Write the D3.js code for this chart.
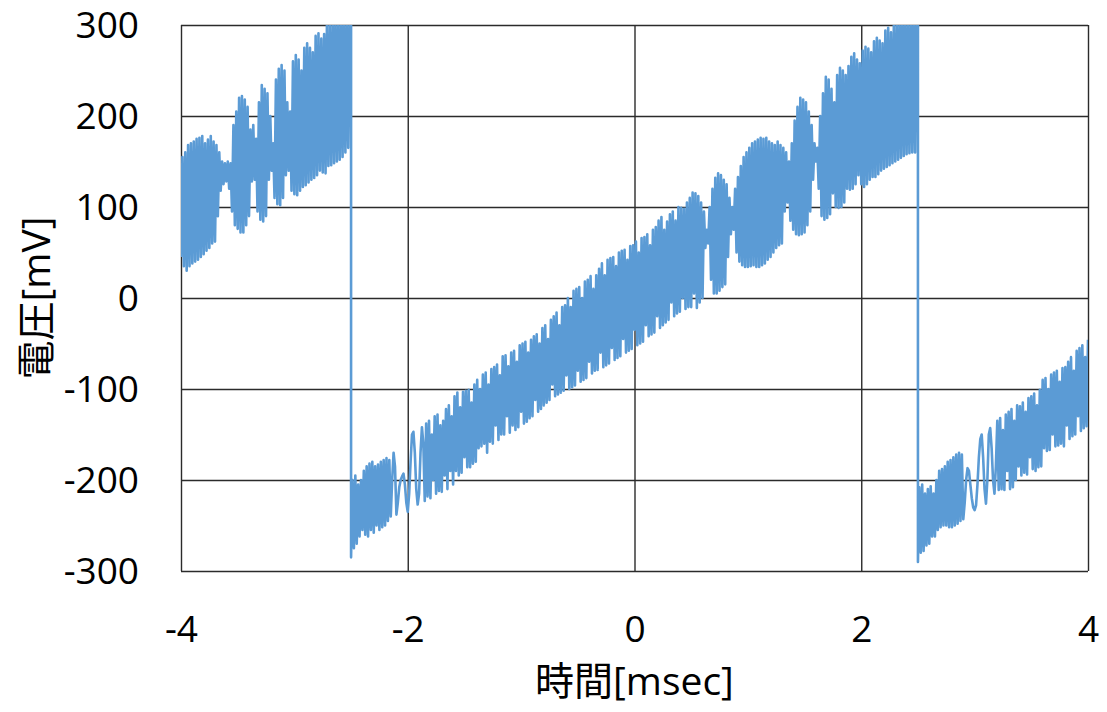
<!DOCTYPE html>
<html><head><meta charset="utf-8">
<script src="https://cdn.jsdelivr.net/npm/d3@7"></script>
<style>body{margin:0;background:#fff} svg{display:block}</style>
</head><body>
<svg id="chart" width="1107" height="712"></svg>
<script>
// Tick labels
const xTicks = [-4, -2, 0, 2, 4];
const yTicks = [-300, -200, -100, 0, 100, 200, 300];
const xTitle = "時間[msec]";
const yTitle = "電圧[mV]";

// Sample times: each segment starts at its start time, samples every 0.0125 ms
const segmentStarts = [-4, -2.5, 2.5];
const sampleStep = 0.0125;

// Voltage samples [mV]
const seg1 = [
  45, 155, 35, 160, 30, 168, 35, 170, 38, 172,
  40, 175, 42, 176, 45, 178, 48, 170, 52, 174,
  55, 178, 60, 172, 62, 168, 90, 160, 118, 150,
  125, 148, 128, 150, 120, 148, 95, 190, 80, 205,
  76, 220, 72, 222, 72, 218, 80, 210, 90, 185,
  128, 190, 130, 175, 95, 215, 86, 234, 84, 230,
  90, 225, 130, 200, 140, 170, 110, 240, 103, 252,
  102, 256, 110, 250, 135, 215, 140, 205, 118, 260,
  114, 267, 113, 262, 118, 250, 122, 275, 124, 280,
  127, 275, 130, 270, 132, 288, 135, 291, 140, 285,
  138, 290, 137, 305, 145, 300, 146, 308, 148, 310,
  150, 305, 152, 310, 155, 310, 160, 305, 165, 310,
  310
];
const seg2 = [
  -285, -200, -275, -195, -270, -205, -262, -200, -255, -190,
  -260, -185, -262, -182, -255, -180, -258, -185, -250, -183,
  -255, -180, -252, -178, -250, -176, -245, -178,
  -240, -200, -170, -185, -238, -225, -208, -200, -196, -193,
  -205, -225, -235, -215, -180, -150, -147, -170, -210, -227,
  -215, -170, -142, -160, -223,
  -138,
  -218, -135, -220, -150, -200, -130, -215, -128, -212, -140,
  -213, -135, -195, -122, -210, -118, -190, -130, -205, -108,
  -190, -104, -195, -120, -192, -103, -175, -102, -186, -101,
  -186, -115, -182, -95, -180, -90, -165, -100, -163, -84,
  -160, -82, -170, -95, -158, -78, -160, -76, -140, -73,
  -156, -85, -150, -64, -150, -63, -130, -75, -148, -60,
  -140, -58, -145, -70, -142, -52, -125, -50, -138, -48,
  -136, -60, -132, -46, -130, -42, -112, -40, -125, -50,
  -122, -33, -118, -30, -115, -45, -112, -24, -95, -20,
  -108, -16, -106, -30, -104, -10, -102, -8, -85, 0,
  -100, -10, -98, 8, -96, 10, -80, 12, -92, 0,
  -90, 18, -88, 20, -70, 24, -83, 10, -80, 25,
  -79, 32, -60, 38, -76, 25, -74, 42, -72, 44,
  -55, 45, -68, 35, -66, 50, -64, 52, -45, 53,
  -60, 42, -58, 57, -56, 58, -35, 62, -52, 50,
  -50, 66, -48, 67, -30, 70, -42, 58, -40, 75,
  -38, 78, -20, 85, -33, 89, -30, 75, -27, 84,
  -24, 92, -5, 95, -20, 85, -17, 100, -15, 99,
  0, 98, -12, 105, -10, 110, -10, 116, 5, 115,
  -11, 112, -5, 105, 0, 95, 55, 75, 60, 100,
  20, 120, 5, 132, 5, 137, 8, 135, 12, 130,
  15, 125, 45, 110, 70, 100, 75, 120, 50, 133,
  40, 145, 36, 155, 34, 160, 34, 165, 35, 170,
  36, 172, 34, 174, 34, 176, 36, 175, 38, 176,
  42, 172, 45, 170, 50, 168, 55, 172, 58, 168,
  60, 165, 95, 160, 105, 150, 85, 170, 75, 195,
  70, 210, 69, 220, 70, 218, 72, 215, 80, 205,
  95, 190, 130, 170, 150, 165, 120, 200, 90, 225,
  86, 243, 88, 240, 92, 230, 115, 215, 100, 245,
  99, 253, 100, 250, 105, 245, 120, 255, 119, 265,
  120, 269, 125, 262, 135, 258, 125, 272, 122, 276,
  125, 274, 130, 270, 133, 282, 133, 286, 136, 283,
  140, 280, 142, 294, 144, 297, 146, 292, 148, 300,
  150, 305, 152, 310, 154, 308, 156, 310, 158, 305,
  159, 310, 160, 310, 160, 310,
  310
];
const seg3 = [
  -290, -208, -280, -205, -278, -215, -272, -210, -270, -207,
  -262, -215, -262, -200, -255, -190, -252, -188, -250, -185,
  -250, -180, -252, -178, -252, -175, -250, -172, -248, -170,
  -245, -172,
  -243, -225, -200, -187, -190, -205, -220, -230, -233, -228,
  -205, -175, -155, -150, -175, -210, -226, -200, -150, -143,
  -165, -200, -215, -185, -135,
  -211, -132, -210, -145, -211, -128, -190, -125, -210, -122,
  -208, -135, -200, -118, -185, -119, -195, -115, -192, -125,
  -194, -110, -175, -108, -188, -105, -190, -118, -186, -101,
  -185, -90, -165, -88, -168, -100, -167, -84, -150, -82,
  -163, -80, -162, -92, -160, -77, -163, -76, -140, -70,
  -155, -65, -152, -80, -150, -58, -130, -55, -146, -52,
  -143, -65, -141, -46
];

const segments = [seg1, seg2, seg3];

const plot = {left: 181, right: 1088, top: 25, bottom: 571};
const svg = d3.select("#chart");

const x = d3.scaleLinear().domain([-4, 4]).range([plot.left, plot.right]);
const y = d3.scaleLinear().domain([-300, 300]).range([plot.bottom, plot.top]);

const gridColor = "#2b2b2b";
const font = "'Open Sans', 'Noto Sans CJK JP', sans-serif";
const fmt = d => String(d);

// Vertical gridlines + x tick labels
const xAxis = d3.axisBottom(x).tickValues(xTicks).tickFormat(fmt)
  .tickSize(-(plot.bottom - plot.top)).tickPadding(0);
const gx = svg.append("g").attr("transform", `translate(0,${plot.bottom})`).call(xAxis);
gx.select(".domain").remove();
gx.selectAll(".tick line").attr("stroke", gridColor).attr("stroke-width", 1.4);
gx.selectAll(".tick text").attr("y", 71).attr("dy", null)
  .attr("fill", "#000").style("font-family", font).style("font-size", "37px");

// Horizontal gridlines + y tick labels
const yAxis = d3.axisLeft(y).tickValues(yTicks).tickFormat(fmt)
  .tickSize(-(plot.right - plot.left)).tickPadding(42);
const gy = svg.append("g").attr("transform", `translate(${plot.left},0)`).call(yAxis);
gy.select(".domain").remove();
gy.selectAll(".tick line").attr("stroke", gridColor).attr("stroke-width", 1.4);
gy.selectAll(".tick text").attr("dy", "0.33em")
  .attr("fill", "#000").style("font-family", font).style("font-size", "37px");

// Data line
svg.append("clipPath").attr("id", "clip").append("rect")
  .attr("x", plot.left).attr("y", plot.top)
  .attr("width", plot.right - plot.left).attr("height", plot.bottom - plot.top);

const points = [];
segments.forEach((vals, s) => {
  vals.forEach((v, i) => points.push({t: segmentStarts[s] + i * sampleStep, v}));
});

const line = d3.line().x(d => x(d.t)).y(d => y(d.v));
svg.append("path").datum(points)
  .attr("clip-path", "url(#clip)")
  .attr("fill", "none").attr("stroke", "#5B9BD5")
  .attr("stroke-width", 2.6).attr("stroke-linejoin", "round")
  .attr("d", line);

// Titles
svg.append("text").attr("x", (plot.left + plot.right) / 2).attr("y", 695)
  .attr("text-anchor", "middle").style("font-family", font).style("font-size", "39px")
  .text(xTitle);
svg.append("text").attr("transform", `translate(50,${y(0)}) rotate(-90)`)
  .attr("text-anchor", "middle").style("font-family", font).style("font-size", "39px")
  .text(yTitle);
</script>
</body></html>
